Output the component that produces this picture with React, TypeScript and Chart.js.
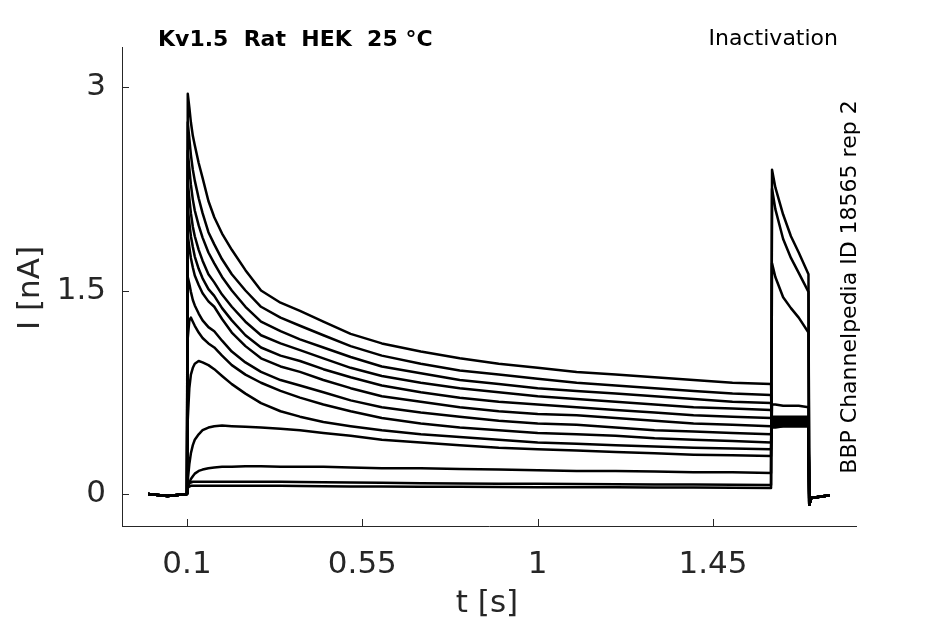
import { useEffect, useRef } from "react";
import { Chart, registerables } from "chart.js";

Chart.register(...registerables);

// time points of the sweep (s)
const timeS = [
  0, 0.05, 0.1, 0.102, 0.106, 0.11, 0.115, 0.12, 0.13, 0.14, 0.155, 0.17, 0.19, 0.215, 0.25, 0.29, 0.34,
  0.39, 0.45, 0.52, 0.6, 0.7, 0.8, 0.9, 1.0, 1.1, 1.2, 1.3, 1.4, 1.5, 1.599, 1.6015, 1.61, 1.63, 1.65,
  1.67, 1.695, 1.697, 1.702, 1.75,
];

// current traces (nA), one per sweep
const pre = [0, -0.015, 0];
const tail = [-0.08, -0.03, -0.01];

const trace01 = [...pre,
  2.95, 2.85, 2.74, 2.64, 2.57, 2.44, 2.33, 2.16, 2.04, 1.92, 1.8, 1.65, 1.5, 1.41, 1.35, 1.27, 1.18, 1.11, 1.05, 1.0, 0.96, 0.93, 0.9, 0.88, 0.86, 0.84, 0.82, 0.81,
  0.49, 0.49, 0.5, 0.5, 0.5, 0.5, ...tail];
const trace02 = [...pre,
  2.74, 2.62, 2.5, 2.39, 2.31, 2.18, 2.07, 1.93, 1.84, 1.73, 1.62, 1.5, 1.38, 1.3, 1.24, 1.17, 1.09, 1.02, 0.96, 0.91, 0.88, 0.85, 0.82, 0.8, 0.78, 0.76, 0.74, 0.73,
  0.5, 0.5, 0.5, 0.5, 0.5, 0.5, ...tail];
const trace03 = [...pre,
  2.53, 2.4, 2.28, 2.17, 2.09, 1.98, 1.89, 1.78, 1.7, 1.6, 1.5, 1.38, 1.27, 1.2, 1.14, 1.08, 1.01, 0.94, 0.89, 0.84, 0.81, 0.78, 0.76, 0.74, 0.72, 0.7, 0.68, 0.67,
  0.51, 0.51, 0.51, 0.51, 0.51, 0.51, ...tail];
const trace04 = [...pre,
  2.31, 2.18, 2.07, 1.97, 1.9, 1.8, 1.72, 1.62, 1.56, 1.47, 1.38, 1.27, 1.17, 1.11, 1.06, 1.0, 0.93, 0.87, 0.82, 0.78, 0.75, 0.72, 0.7, 0.68, 0.66, 0.64, 0.63, 0.62,
  0.52, 0.52, 0.52, 0.52, 0.52, 0.52, ...tail];
const trace05 = [...pre,
  2.11, 2.0, 1.9, 1.82, 1.75, 1.66, 1.59, 1.51, 1.46, 1.37, 1.28, 1.17, 1.08, 1.02, 0.98, 0.92, 0.86, 0.8, 0.75, 0.71, 0.68, 0.66, 0.64, 0.62, 0.6, 0.58, 0.57, 0.56,
  0.52, 0.52, 0.52, 0.52, 0.52, 0.52, ...tail];
const trace06 = [...pre,
  1.91, 1.82, 1.74, 1.67, 1.61, 1.54, 1.48, 1.42, 1.38, 1.29, 1.19, 1.09, 1.0, 0.94, 0.9, 0.84, 0.78, 0.72, 0.68, 0.64, 0.61, 0.59, 0.58, 0.56, 0.54, 0.52, 0.51, 0.5,
  0.53, 0.53, 0.53, 0.53, 0.53, 0.53, ...tail];
const trace07 = [...pre,
  1.6, 1.55, 1.49, 1.43, 1.39, 1.33, 1.28, 1.23, 1.2, 1.13, 1.05, 0.97, 0.9, 0.84, 0.8, 0.75, 0.69, 0.64, 0.6, 0.57, 0.54, 0.52, 0.51, 0.49, 0.47, 0.46, 0.45, 0.44,
  0.54, 0.54, 0.54, 0.54, 0.54, 0.54, ...tail];
const trace08 = [...pre,
  1.15, 1.28, 1.3, 1.27, 1.24, 1.19, 1.15, 1.11, 1.08, 1.02, 0.95, 0.88, 0.82, 0.76, 0.71, 0.66, 0.61, 0.56, 0.52, 0.49, 0.47, 0.45, 0.44, 0.43, 0.41, 0.4, 0.39, 0.38,
  0.55, 0.55, 0.55, 0.55, 0.55, 0.55, ...tail];
const trace09 = [...pre,
  0.55, 0.78, 0.88, 0.93, 0.96, 0.98, 0.97, 0.95, 0.92, 0.87, 0.81, 0.74, 0.67, 0.61, 0.57, 0.53, 0.5, 0.47, 0.44, 0.42, 0.4, 0.38, 0.37, 0.36, 0.35, 0.34, 0.335, 0.33,
  0.57, 0.57, 0.57, 0.57, 0.57, 0.57, ...tail];
const trace10 = [...pre,
  0.1, 0.22, 0.3, 0.36, 0.4, 0.44, 0.47, 0.49, 0.5, 0.505, 0.5, 0.495, 0.49, 0.48, 0.47, 0.45, 0.43, 0.4, 0.38, 0.36, 0.34, 0.33, 0.32, 0.31, 0.3, 0.29, 0.285, 0.28,
  0.66, 0.66, 0.65, 0.65, 0.65, 0.64, ...tail];
const trace11 = [...pre,
  0.04, 0.08, 0.11, 0.13, 0.15, 0.17, 0.18, 0.19, 0.195, 0.2, 0.2, 0.205, 0.205, 0.2, 0.2, 0.2, 0.195, 0.19, 0.19, 0.185, 0.18, 0.175, 0.17, 0.17, 0.165, 0.16, 0.16, 0.155,
  1.7, 1.6, 1.45, 1.37, 1.3, 1.19, ...tail];
const trace12 = [...pre,
  0.06, 0.08, 0.085, 0.09, 0.09, 0.09, 0.09, 0.09, 0.09, 0.09, 0.09, 0.09, 0.09, 0.09, 0.088, 0.086, 0.085, 0.083, 0.08, 0.078, 0.076, 0.075, 0.073, 0.072, 0.07, 0.07, 0.068, 0.067,
  2.25, 2.1, 1.88, 1.74, 1.63, 1.49, ...tail];
const trace13 = [...pre,
  0.05, 0.055, 0.06, 0.06, 0.06, 0.06, 0.06, 0.06, 0.06, 0.06, 0.06, 0.06, 0.06, 0.06, 0.058, 0.057, 0.056, 0.055, 0.054, 0.053, 0.052, 0.05, 0.05, 0.049, 0.048, 0.047, 0.046, 0.045,
  2.39, 2.26, 2.06, 1.9, 1.78, 1.62, ...tail];

const traces = [trace01, trace02, trace03, trace04, trace05, trace06, trace07, trace08, trace09, trace10, trace11, trace12, trace13];

const xTicks = [0.1, 0.55, 1, 1.45];
const yTicks = [0, 1.5, 3];

const titleText = "Kv1.5  Rat  HEK  25 °C";
const protocolText = "Inactivation";
const sideText = "BBP Channelpedia ID 18565 rep 2";
const xTitle = "t [s]";
const yTitle = "I [nA]";

const FONT = "'DejaVu Sans', sans-serif";
const AXIS_COLOR = "#262626";

const decorPlugin = {
  id: "decor",
  afterDraw(chart: any) {
    const { ctx, chartArea, scales } = chart;
    const xs = scales.x;
    const ys = scales.y;
    ctx.save();
    ctx.strokeStyle = AXIS_COLOR;
    ctx.lineWidth = 1;
    ctx.beginPath();
    xTicks.forEach((v) => {
      const px = Math.round(xs.getPixelForValue(v)) + 0.5;
      ctx.moveTo(px, chartArea.bottom);
      ctx.lineTo(px, chartArea.bottom - 7);
    });
    yTicks.forEach((v) => {
      const py = Math.round(ys.getPixelForValue(v)) + 0.5;
      ctx.moveTo(chartArea.left, py);
      ctx.lineTo(chartArea.left + 7, py);
    });
    ctx.stroke();

    ctx.fillStyle = "#000";
    ctx.textBaseline = "middle";
    ctx.font = `bold 22px ${FONT}`;
    ctx.textAlign = "left";
    ctx.fillText(titleText, 158, 40);

    ctx.font = `22px ${FONT}`;
    ctx.textAlign = "right";
    ctx.fillText(protocolText, 838, 39);

    ctx.save();
    ctx.translate(850, 287);
    ctx.rotate(-Math.PI / 2);
    ctx.textAlign = "center";
    ctx.fillText(sideText, 0, 0);
    ctx.restore();

    ctx.fillStyle = AXIS_COLOR;
    ctx.font = `31px ${FONT}`;
    ctx.textAlign = "center";
    ctx.fillText(xTitle, 487, 604);

    ctx.save();
    ctx.translate(31, 288);
    ctx.rotate(-Math.PI / 2);
    ctx.fillText(yTitle, 0, 0);
    ctx.restore();

    ctx.restore();
  },
};

export default function App() {
  const canvasRef = useRef<HTMLCanvasElement | null>(null);

  useEffect(() => {
    if (!canvasRef.current) return;
    const datasets = traces.map((tr, i) => ({
      label: `sweep ${i + 1}`,
      data: timeS.map((t, j) => ({ x: t, y: tr[j] })),
      borderColor: "#000000",
      borderWidth: 2.5,
      borderJoinStyle: "round" as const,
      pointRadius: 0,
      tension: 0,
      fill: false,
    }));
    const chart = new Chart(canvasRef.current, {
      type: "line",
      data: { datasets },
      options: {
        animation: false,
        responsive: false,
        devicePixelRatio: 1,
        layout: { padding: { left: 0, top: 47, right: 89, bottom: 0 } },
        plugins: { legend: { display: false }, tooltip: { enabled: false }, title: { display: false } },
        scales: {
          x: {
            type: "linear",
            min: -0.0668,
            max: 1.817,
            grid: { display: true, drawOnChartArea: false, drawTicks: false },
            border: { display: true, color: AXIS_COLOR, width: 1 },
            afterBuildTicks: (s: any) => {
              s.ticks = xTicks.map((v) => ({ value: v }));
            },
            afterFit: (s: any) => {
              s.height = 98;
            },
            ticks: {
              color: AXIS_COLOR,
              font: { family: FONT, size: 31 },
              padding: 20,
              maxRotation: 0,
              autoSkip: false,
              callback: (v: any) => String(v),
            },
          },
          y: {
            type: "linear",
            min: -0.236,
            max: 3.295,
            grid: { display: true, drawOnChartArea: false, drawTicks: false },
            border: { display: true, color: AXIS_COLOR, width: 1 },
            afterBuildTicks: (s: any) => {
              s.ticks = yTicks.map((v) => ({ value: v }));
            },
            afterFit: (s: any) => {
              s.width = 122;
            },
            ticks: {
              color: AXIS_COLOR,
              font: { family: FONT, size: 31 },
              padding: 16,
              autoSkip: false,
              callback: (v: any) => String(v),
            },
          },
        },
      },
      plugins: [decorPlugin],
    });
    return () => chart.destroy();
  }, []);

  return (
    <div style={{ position: "fixed", left: 0, top: 0, width: 945, height: 624, background: "#fff" }}>
      <canvas ref={canvasRef} width={945} height={624} style={{ width: 945, height: 624 }} />
    </div>
  );
}
